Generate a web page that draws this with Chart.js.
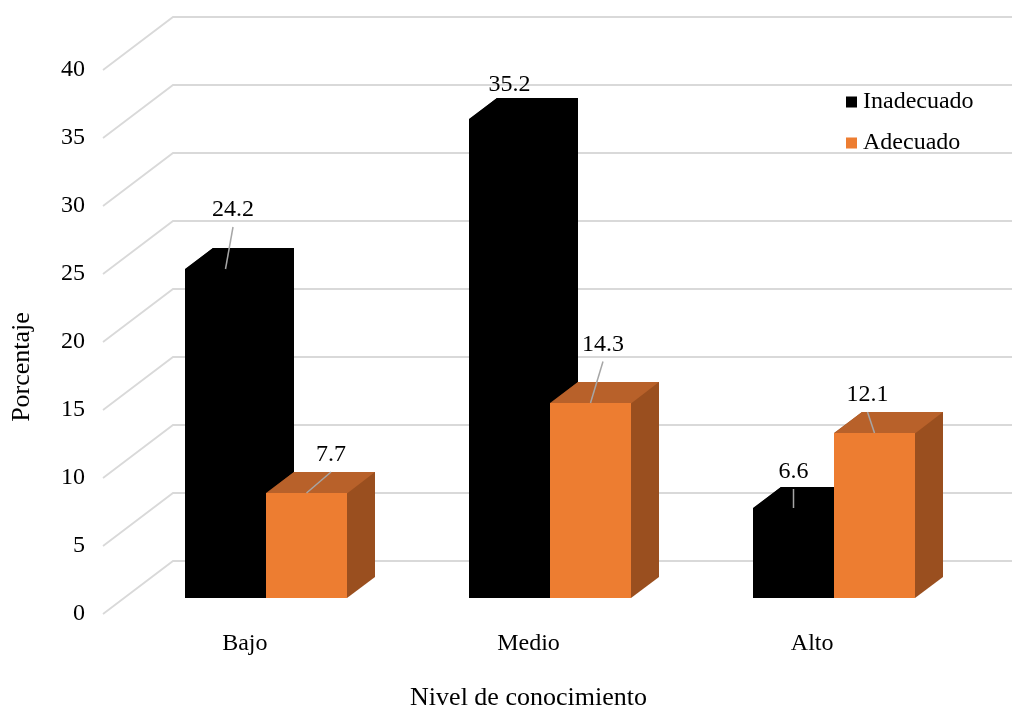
<!DOCTYPE html>
<html>
<head>
<meta charset="utf-8">
<script src="https://cdn.jsdelivr.net/npm/chart.js@4.4.1/dist/chart.umd.min.js"></script>
<style>
    html, body { margin: 0; padding: 0; background: #fff; }
    #wrap { width: 1012px; height: 711px; position: relative; }
</style>
</head>
<body>
<div id="wrap"><canvas id="chart-conocimiento"></canvas></div>
<script>
const categories = ['Bajo', 'Medio', 'Alto'];
const seriesNames = ['Inadecuado', 'Adecuado'];
const inadecuado = [24.2, 35.2, 6.6];
const adecuado = [7.7, 14.3, 12.1];
const yMin = 0;
const yMax = 40;
const yStep = 5;

// where each value label sits, relative to the front top edge of its bar
const labelOffsets = [
    [[7.5, -59], [0, -34], [0, -36]],
    [[24.5, -38], [12.5, -58.5], [-7, -38]],
];
const leaderLines = [
    [true, false, true],
    [true, true, true],
];

const FONT = '"Liberation Serif", "Times New Roman", serif';
const DEPTH_X = 70;
const DEPTH_Y = 53;
const BAR_FRONT = 0.3077;
const BAR_DEPTH = 0.4;

const faces = [
    { front: '#000000', top: '#000000', side: '#000000' },
    { front: '#ED7D31', top: '#B8612A', side: '#9A4F1F' },
];

function fillPoly(ctx, pts) {
    ctx.beginPath();
    ctx.moveTo(pts[0][0], pts[0][1]);
    for (let k = 1; k < pts.length; k++) {
        ctx.lineTo(pts[k][0], pts[k][1]);
    }
    ctx.closePath();
    ctx.fill();
}

// front face of a bar, pushed back into the box and snapped to whole pixels
function barBox(chart, i, j) {
    const bar = chart.getDatasetMeta(i).data[j];
    const p = bar.getProps(['x', 'y', 'base', 'width'], true);
    const ox = DEPTH_X * BAR_FRONT;
    const oy = DEPTH_Y * BAR_FRONT;
    return {
        l: Math.round(p.x - p.width / 2 + ox),
        r: Math.round(p.x + p.width / 2 + ox),
        t: Math.round(p.y - oy),
        b: Math.round(p.base - oy),
    };
}

const depthPlugin = {
    id: 'depth3d',
    beforeDatasetsDraw(chart) {
        const { ctx, chartArea, scales } = chart;
        const yScale = scales.y;

        // side wall + back wall gridlines
        ctx.save();
        ctx.strokeStyle = '#D9D9D9';
        ctx.lineWidth = 1.8;
        yScale.ticks.forEach(t => {
            const py = yScale.getPixelForValue(t.value);
            ctx.beginPath();
            ctx.moveTo(chartArea.left, py);
            ctx.lineTo(chartArea.left + DEPTH_X, py - DEPTH_Y);
            ctx.lineTo(chart.width, py - DEPTH_Y);
            ctx.stroke();
        });

        // boxes, back to front inside each category
        const dx = Math.round(DEPTH_X * BAR_DEPTH);
        const dy = Math.round(DEPTH_Y * BAR_DEPTH);
        categories.forEach((c, j) => {
            chart.data.datasets.forEach((ds, i) => {
                const { l, r, t, b } = barBox(chart, i, j);
                // whole outline in the side colour first, so faces meet without seams
                ctx.fillStyle = faces[i].side;
                fillPoly(ctx, [[l, t], [l + dx, t - dy], [r + dx, t - dy], [r + dx, b - dy], [r, b], [l, b]]);
                ctx.fillStyle = faces[i].top;
                fillPoly(ctx, [[l, t + 0.5], [l + dx, t - dy], [r + dx, t - dy], [r, t + 0.5]]);
                ctx.fillStyle = faces[i].front;
                ctx.fillRect(l, t, r - l, b - t);
            });
        });
        ctx.restore();
        return false;
    },
    afterDraw(chart) {
        const { ctx } = chart;
        ctx.save();
        ctx.font = '24px ' + FONT;
        ctx.fillStyle = '#000';
        ctx.textAlign = 'center';
        ctx.textBaseline = 'middle';

        // value labels with leader lines
        chart.data.datasets.forEach((ds, i) => {
            ds.data.forEach((v, j) => {
                const { l, r, t } = barBox(chart, i, j);
                const ax = (l + r) / 2;
                const lx = ax + labelOffsets[i][j][0];
                const ly = t + labelOffsets[i][j][1];
                if (leaderLines[i][j]) {
                    ctx.strokeStyle = '#A6A6A6';
                    ctx.lineWidth = 1.5;
                    ctx.beginPath();
                    ctx.moveTo(lx, ly + 17);
                    ctx.lineTo(ax, t);
                    ctx.stroke();
                }
                ctx.fillText(v.toFixed(1), lx, ly);
            });
        });

        // legend
        ctx.textAlign = 'left';
        chart.data.datasets.forEach((ds, i) => {
            const cy = 102 + i * 41;
            ctx.fillStyle = faces[i].front;
            ctx.fillRect(846, cy - 5.5, 11, 11);
            ctx.fillStyle = '#000';
            ctx.fillText(ds.label, 863, cy);
        });

        // y axis title
        ctx.font = '26px ' + FONT;
        ctx.translate(22, 367);
        ctx.rotate(-Math.PI / 2);
        ctx.textAlign = 'center';
        ctx.fillText('Porcentaje', 0, 0);
        ctx.restore();
    },
};

new Chart(document.getElementById('chart-conocimiento'), {
    type: 'bar',
    data: {
        labels: categories,
        datasets: [
            { label: seriesNames[0], data: inadecuado, backgroundColor: faces[0].front },
            { label: seriesNames[1], data: adecuado, backgroundColor: faces[1].front },
        ],
    },
    options: {
        responsive: true,
        maintainAspectRatio: false,
        animation: false,
        devicePixelRatio: 1,
        categoryPercentage: 0.571,
        barPercentage: 1.0,
        layout: {
            padding: { top: 70, right: 58, left: 0, bottom: 0 },
        },
        plugins: {
            legend: { display: false },
            tooltip: { enabled: false },
        },
        scales: {
            x: {
                grid: { display: false, drawTicks: false },
                border: { display: false },
                ticks: {
                    padding: 15,
                    color: '#000',
                    font: { family: FONT, size: 24 },
                },
                title: {
                    display: true,
                    text: 'Nivel de conocimiento',
                    color: '#000',
                    font: { family: FONT, size: 26 },
                    padding: { top: 0, bottom: -3 },
                },
                afterFit(scale) { scale.height = 97; },
            },
            y: {
                min: yMin,
                max: yMax,
                grid: { display: false, drawTicks: false },
                border: { display: false },
                ticks: {
                    stepSize: yStep,
                    padding: 18,
                    color: '#000',
                    font: { family: FONT, size: 24 },
                },
                afterFit(scale) { scale.width = 103; },
            },
        },
    },
    plugins: [depthPlugin],
});
</script>
</body>
</html>
